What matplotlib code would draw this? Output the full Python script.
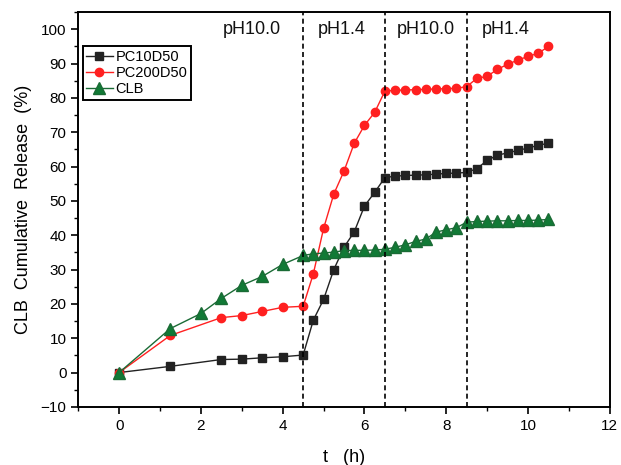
import matplotlib
matplotlib.use('Agg')
import matplotlib.pyplot as plt
from matplotlib.ticker import MultipleLocator

plt.rcParams['font.family'] = ['Liberation Sans', 'DejaVu Sans']

# tempos (h)
t_fase1 = [0, 1.25, 2.5, 3, 3.5, 4, 4.5]
t_clb1 = [0, 1.25, 2, 2.5, 3, 3.5, 4, 4.5]
t_resto = [4.75, 5.0, 5.25, 5.5, 5.75, 6.0, 6.25, 6.5,
           6.75, 7.0, 7.25, 7.5, 7.75, 8.0, 8.25, 8.5,
           8.75, 9.0, 9.25, 9.5, 9.75, 10.0, 10.25, 10.5]

pc10 = [0, 1.8, 3.8, 3.9, 4.3, 4.6, 5.1,
        15.3, 21.3, 30.0, 36.5, 41.0, 48.5, 52.5, 56.8,
        57.2, 57.4, 57.5, 57.6, 57.8, 58.0, 58.1, 58.3,
        59.4, 61.8, 63.3, 64.0, 64.7, 65.4, 66.2, 66.8]

pc200 = [0, 10.8, 16.0, 16.6, 17.8, 19.0, 19.3,
         28.8, 42.0, 52.0, 58.7, 66.8, 72.0, 75.8, 82.0,
         82.2, 82.3, 82.4, 82.5, 82.6, 82.7, 82.8, 83.3,
         85.7, 86.3, 88.3, 89.8, 91.0, 92.1, 93.0, 95.0]

clb = [0, 12.8, 17.2, 21.6, 25.4, 28.0, 31.5, 34.1,
       34.6, 34.8, 35.1, 35.5, 35.6, 35.6, 35.7, 35.9,
       36.5, 37.2, 38.2, 38.9, 40.9, 41.6, 42.2, 43.8,
       44.0, 44.1, 44.2, 44.2, 44.3, 44.3, 44.4, 44.6]

trocas = [4.5, 6.5, 8.5]
rotulos_ph = ['pH10.0', 'pH1.4', 'pH10.0', 'pH1.4']
pos_ph = [3.25, 5.45, 7.5, 9.45]

fig = plt.figure(figsize=(6.21, 4.65), dpi=100)
ax = fig.add_axes([0.126, 0.125, 0.856, 0.849])

ax.plot(t_fase1 + t_resto, pc10, '-s', color='#222222', markerfacecolor='#222222',
        markersize=6, linewidth=1.0, label='PC10D50')
ax.plot(t_fase1 + t_resto, pc200, '-o', color='#ff2020', markerfacecolor='#ff2020',
        markersize=6, linewidth=1.0, label='PC200D50')
ax.plot(t_clb1 + t_resto, clb, '-^', color='#1a6b35', markerfacecolor='#117a36',
        markersize=8, linewidth=1.0, label='CLB')

for x in trocas:
    ax.axvline(x, color='black', linestyle='--', linewidth=1.2, dashes=(3, 2))

for x, s in zip(pos_ph, rotulos_ph):
    ax.text(x, 100, s, ha='center', va='center', fontsize=13, color='#111111')

ax.set_xlim(-1, 12)
ax.set_ylim(-10, 105)
ax.xaxis.set_major_locator(MultipleLocator(2))
ax.xaxis.set_minor_locator(MultipleLocator(1))
ax.yaxis.set_major_locator(MultipleLocator(10))
ax.yaxis.set_minor_locator(MultipleLocator(5))
ax.tick_params(which='major', direction='out', length=5, width=1.2, labelsize=11)
ax.tick_params(which='minor', direction='out', length=3, width=1.0)
for s in ax.spines.values():
    s.set_linewidth(1.4)

ax.set_xlabel('t   (h)', fontsize=13, labelpad=12)
ax.set_ylabel('CLB  Cumulative  Release  (%)', fontsize=13, labelpad=6)

leg = ax.legend(loc='upper left', bbox_to_anchor=(0.0, 0.925), fontsize=10.5,
                fancybox=False, edgecolor='black', framealpha=1,
                handlelength=1.8, borderpad=0.25, labelspacing=0.15,
                handletextpad=0.2, borderaxespad=0.3)
leg.get_frame().set_linewidth(1.4)

fig.savefig('out.png', dpi=100)
